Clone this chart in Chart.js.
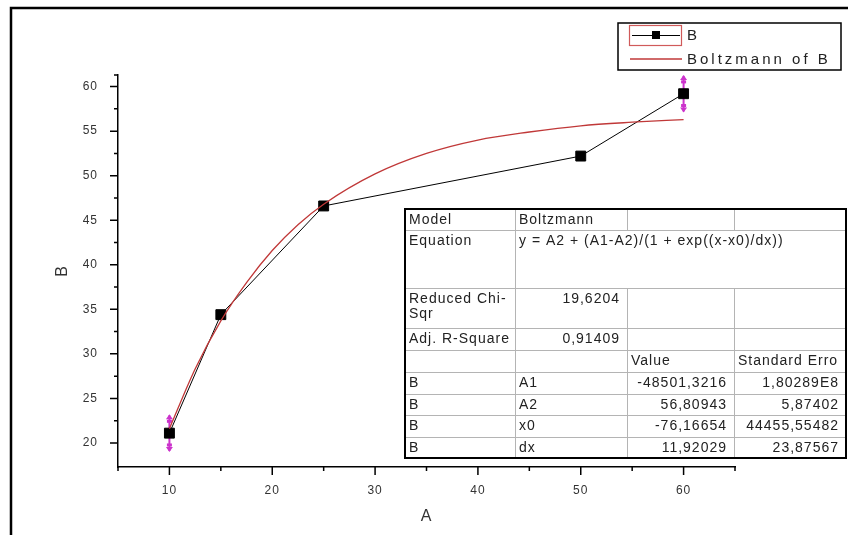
<!DOCTYPE html>
<html>
<head>
<meta charset="utf-8">
<script src="https://cdn.jsdelivr.net/npm/chart.js@4/dist/chart.umd.min.js"></script>
<style>
  html, body { margin: 0; padding: 0; background: #fff; }
  canvas { display: block; }
</style>
</head>
<body>
<canvas id="chart" width="848" height="535"></canvas>
<script>
// data
const xA = [10, 15, 25, 50, 60];
const yB = [21.1, 34.4, 46.6, 52.2, 59.2];
const errB = [2.0, 0, 0, 0, 2.0];

// Boltzmann fit curve
const fitX = [10, 12.5, 15, 17.5, 20, 22.5, 25, 30, 35, 40, 45, 50, 55, 60];
const fitY = [21.6, 28.3, 33.7, 38.0, 41.6, 44.5, 46.8, 50.2, 52.5, 54.0, 54.9, 55.6, 56.0, 56.3];

const xMajor = [10, 20, 30, 40, 50, 60];
const xMinor = [5, 15, 25, 35, 45, 55, 65];
const yMajor = [20, 25, 30, 35, 40, 45, 50, 55, 60];
const yMinor = [22.5, 27.5, 32.5, 37.5, 42.5, 47.5, 52.5, 57.5];

const legendLabels = ['B', 'Boltzmann of B'];

// fit report table
const tableRows = [
  ['Model', 'Boltzmann', '', ''],
  ['Equation', 'y = A2 + (A1-A2)/(1 + exp((x-x0)/dx))'],
  ['Reduced Chi-\nSqr', '19,6204', '', ''],
  ['Adj. R-Square', '0,91409', '', ''],
  ['', '', 'Value', 'Standard Error'],
  ['B', 'A1', '-48501,3216', '1,80289E8'],
  ['B', 'A2', '56,80943', '5,87402'],
  ['B', 'x0', '-76,16654', '44455,55482'],
  ['B', 'dx', '11,92029', '23,87567']
];

const FONT = "'Liberation Sans', Arial, sans-serif";
const RED = '#c03838';
const MAGENTA = '#cc33cc';

const extras = {
  id: 'extras',
  beforeDraw(chart) {
    chart.ctx.letterSpacing = '1px';
  },
  beforeDatasetsDraw(chart) {
    // error bars
    const ctx = chart.ctx;
    const xs = chart.scales.x, ys = chart.scales.y;
    ctx.save();
    ctx.strokeStyle = MAGENTA;
    ctx.fillStyle = MAGENTA;
    ctx.lineWidth = 2;
    xA.forEach((x, i) => {
      if (!errB[i]) return;
      const px = xs.getPixelForValue(x);
      const top = ys.getPixelForValue(yB[i] + errB[i]);
      const bot = ys.getPixelForValue(yB[i] - errB[i]);
      ctx.beginPath();
      ctx.moveTo(px, top); ctx.lineTo(px, bot);
      ctx.stroke();
      [[top, -1], [bot, 1]].forEach(([y, d]) => {
        ctx.beginPath();
        ctx.moveTo(px, y + d * 1);
        ctx.lineTo(px - 3.5, y - d * 4);
        ctx.lineTo(px + 3.5, y - d * 4);
        ctx.closePath();
        ctx.fill();
        ctx.fillRect(px - 2.5, y - d * 6 - 1.5, 5, 3);
      });
    });
    ctx.restore();
  },
  afterDraw(chart) {
    const ctx = chart.ctx;
    const xs = chart.scales.x, ys = chart.scales.y;
    const area = chart.chartArea;
    ctx.save();
    ctx.letterSpacing = '0px';

    // axis ticks
    ctx.strokeStyle = '#000';
    ctx.lineWidth = 1.5;
    ctx.beginPath();
    xMajor.forEach(v => { const p = xs.getPixelForValue(v); ctx.moveTo(p, area.bottom); ctx.lineTo(p, area.bottom + 8); });
    xMinor.forEach(v => { const p = xs.getPixelForValue(v); ctx.moveTo(p, area.bottom); ctx.lineTo(p, area.bottom + 4); });
    yMajor.forEach(v => { const p = ys.getPixelForValue(v); ctx.moveTo(area.left, p); ctx.lineTo(area.left - 8, p); });
    yMinor.forEach(v => { const p = ys.getPixelForValue(v); ctx.moveTo(area.left, p); ctx.lineTo(area.left - 4, p); });
    ctx.moveTo(area.left, area.top); ctx.lineTo(area.left - 4, area.top);
    ctx.stroke();

    // outer frame (top and left)
    ctx.lineWidth = 2.5;
    ctx.beginPath();
    ctx.moveTo(11, 535); ctx.lineTo(11, 8); ctx.lineTo(848, 8);
    ctx.stroke();

    // legend
    ctx.lineWidth = 1.5;
    ctx.strokeStyle = '#000';
    ctx.fillStyle = '#fff';
    ctx.fillRect(618, 23, 223, 47);
    ctx.strokeRect(618, 23, 223, 47);
    ctx.lineWidth = 1.2;
    ctx.strokeStyle = '#d05a5a';
    ctx.strokeRect(629.5, 25.5, 52, 20);
    ctx.strokeStyle = '#000';
    ctx.lineWidth = 1;
    ctx.beginPath(); ctx.moveTo(632, 35.5); ctx.lineTo(680, 35.5); ctx.stroke();
    ctx.fillStyle = '#000';
    ctx.fillRect(652, 31, 8, 8);
    ctx.strokeStyle = RED;
    ctx.lineWidth = 1.3;
    ctx.beginPath(); ctx.moveTo(630, 59); ctx.lineTo(682, 59); ctx.stroke();
    ctx.font = '15px ' + FONT;
    ctx.letterSpacing = '3px';
    ctx.fillStyle = '#222';
    ctx.textBaseline = 'middle';
    ctx.textAlign = 'left';
    ctx.fillText(legendLabels[0], 687, 36);
    ctx.fillText(legendLabels[1], 687, 60);

    // table
    const rowL = [209, 230, 288, 328, 350, 372, 394, 415, 437, 458];
    const colL = [405, 515, 627, 734, 846];
    ctx.fillStyle = '#fff';
    ctx.fillRect(colL[0], rowL[0], colL[4] - colL[0], rowL[9] - rowL[0]);
    ctx.strokeStyle = '#b4b4b4';
    ctx.lineWidth = 1;
    ctx.beginPath();
    for (let r = 1; r < rowL.length - 1; r++) {
      ctx.moveTo(colL[0], rowL[r] + 0.5); ctx.lineTo(colL[4], rowL[r] + 0.5);
    }
    for (let c = 1; c < colL.length - 1; c++) {
      for (let r = 0; r < rowL.length - 1; r++) {
        if (r === 1 && c > 1) continue; // merged equation cell
        ctx.moveTo(colL[c] + 0.5, rowL[r]); ctx.lineTo(colL[c] + 0.5, rowL[r + 1]);
      }
    }
    ctx.stroke();
    ctx.strokeStyle = '#000';
    ctx.lineWidth = 2;
    ctx.strokeRect(colL[0], rowL[0], colL[4] - colL[0], rowL[9] - rowL[0]);

    ctx.font = '14px ' + FONT;
    ctx.letterSpacing = '1px';
    ctx.fillStyle = '#222';
    ctx.textBaseline = 'middle';
    tableRows.forEach((row, r) => {
      row.forEach((txt, c) => {
        if (!txt) return;
        const numeric = /^-?[0-9][0-9,E]*$/.test(txt);
        const lines = txt.split('\n');
        const right = (r === 1 && c === 1) ? colL[4] : colL[c + 1];
        const clipW = c === 3 ? right - colL[c] - 9 : right - colL[c] - 1;
        ctx.save();
        ctx.beginPath();
        ctx.rect(colL[c] + 1, rowL[r], clipW, rowL[r + 1] - rowL[r]);
        ctx.clip();
        lines.forEach((ln, k) => {
          const y = rowL[r] + 11 + k * 15;
          if (numeric) {
            ctx.textAlign = 'right';
            ctx.fillText(ln, right - 7, y);
          } else {
            ctx.textAlign = 'left';
            ctx.fillText(ln, colL[c] + 4, y);
          }
        });
        ctx.restore();
      });
    });
    ctx.restore();
  }
};

new Chart(document.getElementById('chart'), {
  type: 'scatter',
  data: {
    datasets: [
      {
        label: legendLabels[1],
        data: fitX.map((x, i) => ({ x: x, y: fitY[i] })),
        showLine: true,
        borderColor: RED,
        borderWidth: 1.3,
        pointRadius: 0,
        cubicInterpolationMode: 'monotone'
      },
      {
        label: legendLabels[0],
        data: xA.map((x, i) => ({ x: x, y: yB[i] })),
        showLine: true,
        borderColor: '#000',
        borderWidth: 1,
        pointStyle: 'rect',
        pointRadius: 7,
        pointBackgroundColor: '#000',
        pointBorderColor: '#000'
      }
    ]
  },
  options: {
    responsive: false,
    animation: false,
    layout: { padding: { left: 0, top: 75, right: 113, bottom: 0 } },
    plugins: { legend: { display: false }, tooltip: { enabled: false } },
    scales: {
      x: {
        type: 'linear',
        min: 5,
        max: 65,
        afterBuildTicks: s => { s.ticks = xMajor.map(v => ({ value: v })); },
        afterFit: s => { s.height = 68; },
        grid: { display: false, drawTicks: false },
        border: { color: '#000', width: 1.5 },
        ticks: { padding: 16, color: '#333', font: { family: FONT, size: 12 } },
        title: { display: true, text: 'A', color: '#333', font: { family: FONT, size: 16 }, padding: { top: 0, bottom: 9 } }
      },
      y: {
        type: 'linear',
        min: 17.3,
        max: 61.3,
        afterBuildTicks: s => { s.ticks = yMajor.map(v => ({ value: v })); },
        afterFit: s => { s.width = 118; },
        grid: { display: false, drawTicks: false },
        border: { color: '#000', width: 1.5 },
        ticks: { padding: 20, color: '#333', font: { family: FONT, size: 12 } },
        title: { display: true, text: 'B', color: '#333', font: { family: FONT, size: 16 }, padding: { top: 53, bottom: 0 } }
      }
    }
  },
  plugins: [extras]
});
</script>
</body>
</html>
